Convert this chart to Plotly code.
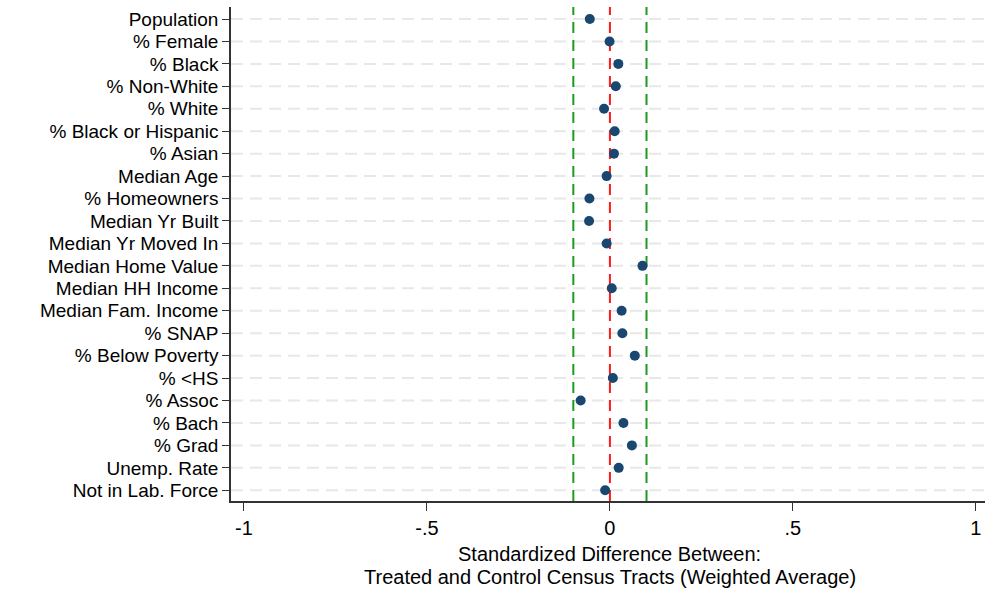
import plotly.graph_objects as go

variables = ["Population", "% Female", "% Black", "% Non-White", "% White",
             "% Black or Hispanic", "% Asian", "Median Age", "% Homeowners",
             "Median Yr Built", "Median Yr Moved In", "Median Home Value",
             "Median HH Income", "Median Fam. Income", "% SNAP", "% Below Poverty",
             "% <HS", "% Assoc", "% Bach", "% Grad", "Unemp. Rate", "Not in Lab. Force"]
std_diff = [-0.055, -0.001, 0.023, 0.016, -0.016, 0.013, 0.011, -0.009, -0.056,
            -0.057, -0.009, 0.089, 0.005, 0.032, 0.034, 0.068, 0.008, -0.080,
            0.037, 0.060, 0.024, -0.013]
zero_line = [0.0]
threshold_lines = [-0.1, 0.1]
x_tickvals = [-1, -0.5, 0, 0.5, 1]
x_ticktext = ["-1", "-.5", "0", ".5", "1"]
x_title_lines = ["Standardized Difference Between:",
                 "Treated and Control Census Tracts (Weighted Average)"]

FONT = "Liberation Sans, Arial, sans-serif"
n = len(variables)
idx = list(range(n))

fig = go.Figure()

# dashed horizontal gridlines
for i in idx:
    fig.add_shape(type="line", xref="paper", yref="y", x0=0, x1=1, y0=i, y1=i,
                  line=dict(color="#e8e8e8", width=2, dash="12px,7px"), layer="below")

for v in threshold_lines:
    fig.add_shape(type="line", xref="x", yref="paper", x0=v, x1=v, y0=0, y1=1,
                  line=dict(color="#1e9a1e", width=2, dash="11px,7px"), layer="below")
for v in zero_line:
    fig.add_shape(type="line", xref="x", yref="paper", x0=v, x1=v, y0=0, y1=1,
                  line=dict(color="#ff1a1a", width=2, dash="11px,7px"), layer="below")

fig.add_trace(go.Scatter(x=std_diff, y=idx, mode="markers",
                         marker=dict(color="#1a476f", size=10),
                         showlegend=False))

# two-line axis title (tight line spacing like the original)
for k, txt in enumerate(x_title_lines):
    fig.add_annotation(text=txt, xref="x", yref="paper", x=0, y=0,
                       yanchor="middle", xanchor="center", showarrow=False,
                       yshift=-53 - 23 * k, font=dict(size=20, family=FONT, color="#000"))

fig.update_layout(
    width=988, height=592,
    margin=dict(l=231, r=3, t=7, b=91),
    paper_bgcolor="white", plot_bgcolor="white",
    font=dict(family=FONT, size=20, color="#000000"),
    xaxis=dict(range=[-1.0355, 1.025], tickvals=x_tickvals, ticktext=x_ticktext,
               showgrid=False, zeroline=False, showline=True, linecolor="#333333",
               linewidth=1.5, ticks="outside", ticklen=8, tickcolor="#333333",
               tickfont=dict(size=20, family=FONT), automargin=False),
    yaxis=dict(range=[n - 1 + 0.477, -0.535], tickvals=idx, ticktext=variables,
               showgrid=False, zeroline=False, showline=True, linecolor="#333333",
               linewidth=1.5, ticks="outside", ticklen=7, tickcolor="#333333",
               tickfont=dict(size=19, family=FONT), automargin=False),
)

fig.write_html("out.html", config={"displayModeBar": False},
               post_script="document.body.style.margin='0';")
